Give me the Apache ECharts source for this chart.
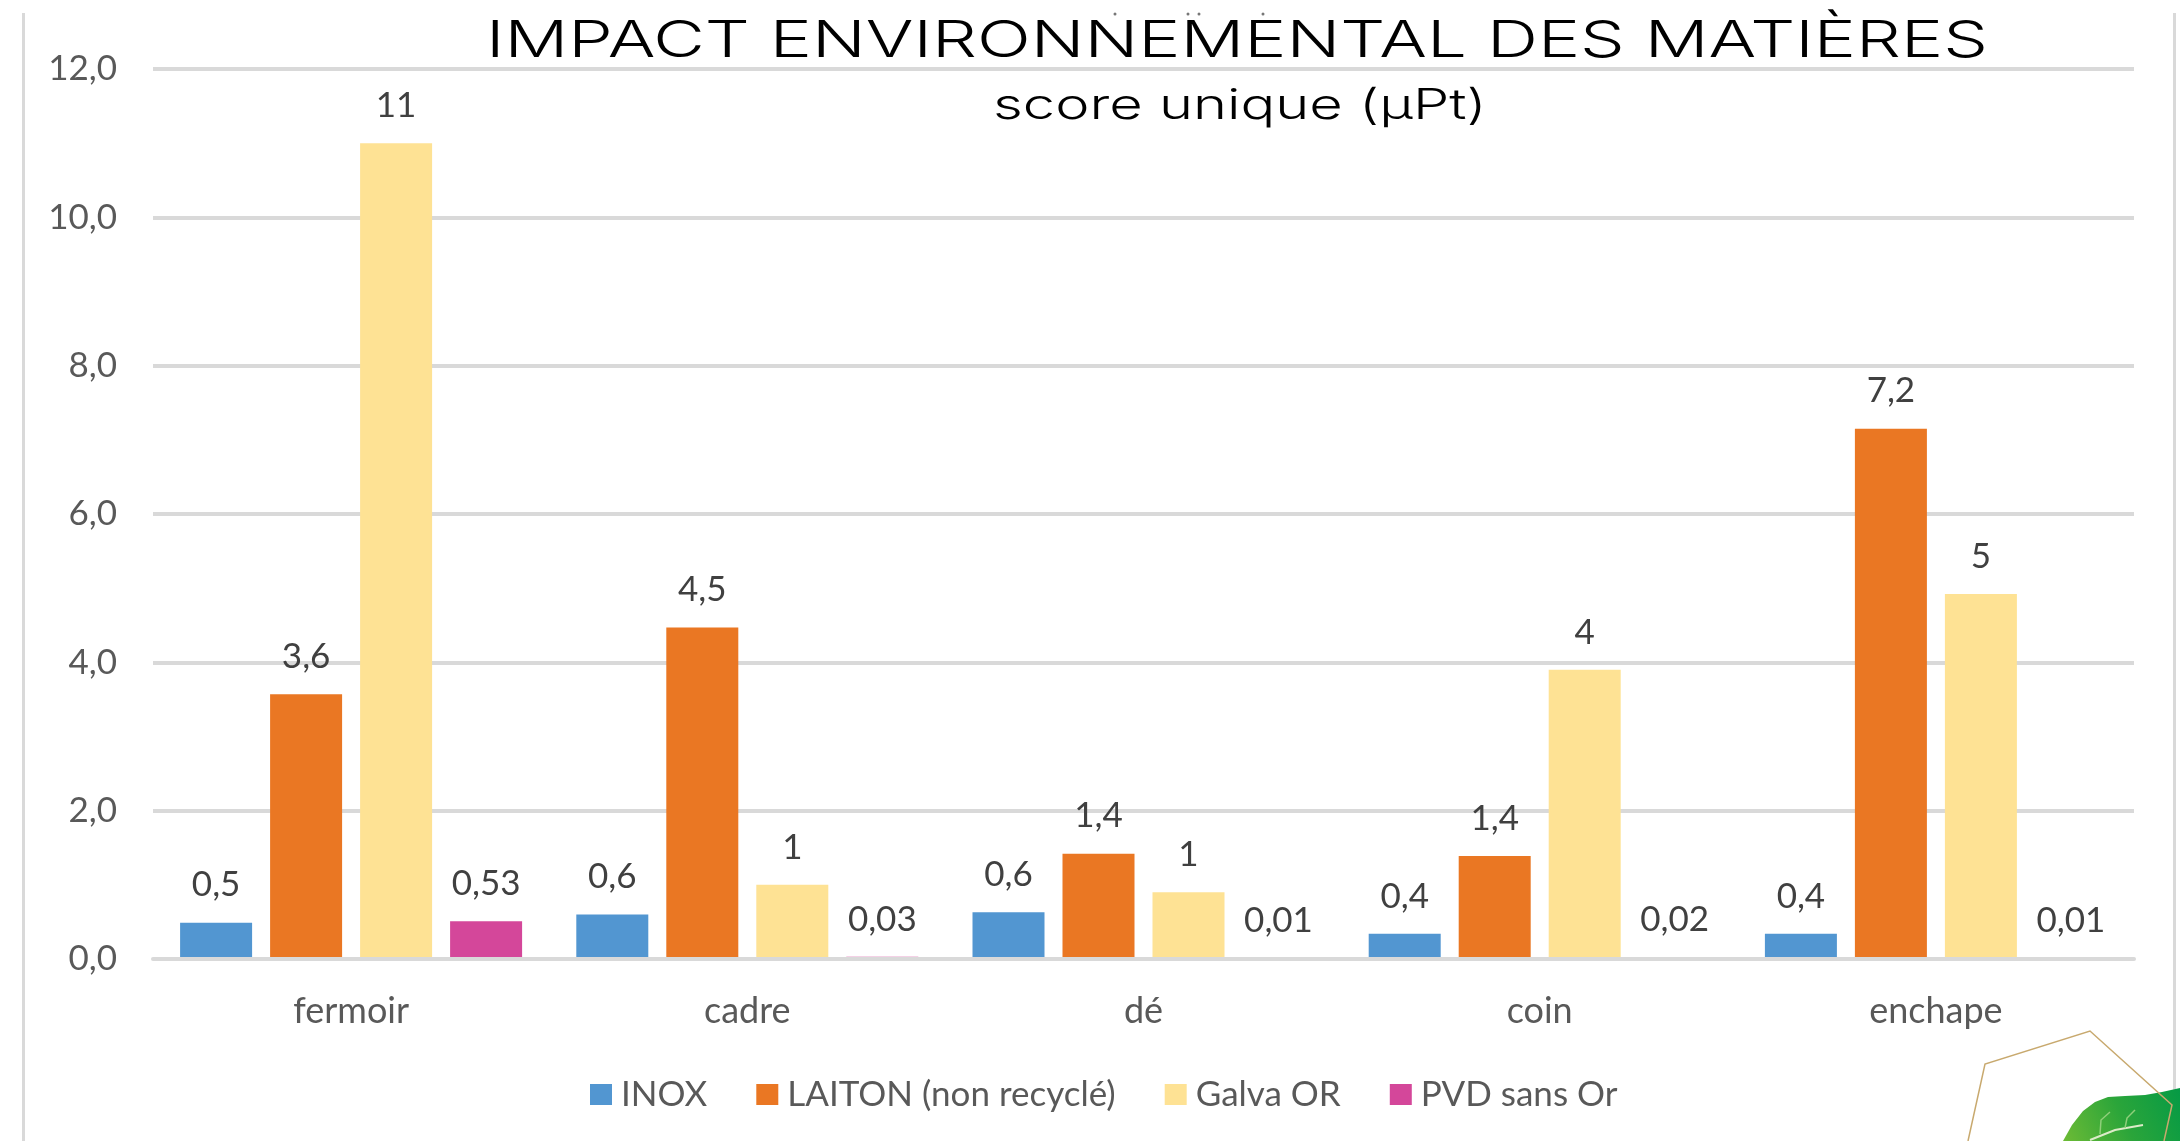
<!DOCTYPE html>
<html>
<head>
<meta charset="utf-8">
<title>Impact environnemental</title>
<script src="https://cdn.jsdelivr.net/npm/echarts@6/dist/echarts.min.js"></script>
<style>
html, body { margin: 0; padding: 0; background: #fff; }
#chart { width: 2180px; height: 1141px; }
</style>
</head>
<body>
<div id="chart"></div>
<script>
var categories = ['fermoir', 'cadre', 'dé', 'coin', 'enchape'];
var inox = [0.49, 0.6, 0.63, 0.34, 0.34];
var laiton = [3.57, 4.47, 1.42, 1.39, 7.15];
var galva = [11, 1, 0.9, 3.9, 4.92];
var pvd = [0.51, 0.03, 0.01, 0.02, 0.01];
// the printed labels are rounded and do not always follow the bar height
var inoxLabels = ['0,5', '0,6', '0,6', '0,4', '0,4'];
var laitonLabels = ['3,6', '4,5', '1,4', '1,4', '7,2'];
var galvaLabels = ['11', '1', '1', '4', '5'];
var pvdLabels = ['0,53', '0,03', '0,01', '0,02', '0,01'];

var font = 'Lato';

function barSeries(name, values, labels, color) {
    return {
        name: name,
        type: 'bar',
        barWidth: 72,
        barGap: '25%',
        itemStyle: { color: color },
        label: {
            show: true,
            position: 'top',
            distance: 20,
            fontFamily: font,
            fontSize: 35,
            color: '#404040',
            formatter: function (p) { return labels[p.dataIndex]; }
        },
        data: values
    };
}

var option = {
    animation: false,
    backgroundColor: '#fff',
    grid: { left: 153, right: 46, top: 69, bottom: 182 },
    legend: {
        left: 585,
        top: 1072,
        itemWidth: 22,
        itemHeight: 21,
        itemGap: 49,
        icon: 'rect',
        textStyle: { fontFamily: font, fontSize: 35, color: '#595959', padding: [0, 0, 0, 4] },
        data: ['INOX', 'LAITON (non recyclé)', 'Galva OR', 'PVD sans Or']
    },
    xAxis: {
        type: 'category',
        data: categories,
        z: 10,
        axisTick: { show: false },
        axisLine: { lineStyle: { color: '#d9d9d9', width: 4 } },
        axisLabel: { fontFamily: font, fontSize: 36, color: '#595959', margin: 34 }
    },
    yAxis: {
        type: 'value',
        min: 0,
        max: 12,
        interval: 2,
        axisLine: { show: false },
        axisTick: { show: false },
        splitLine: { lineStyle: { color: '#d9d9d9', width: 4 } },
        axisLabel: {
            fontFamily: font,
            fontSize: 35,
            color: '#595959',
            margin: 36,
            formatter: function (v) { return v.toFixed(1).replace('.', ','); }
        }
    },
    graphic: [
        { type: 'rect', shape: { x: 22, y: 13, width: 3, height: 1128 }, style: { fill: '#d9d9d9' } },
        { type: 'rect', shape: { x: 2173, y: 13, width: 3, height: 1128 }, style: { fill: '#d9d9d9' } },
        {
            type: 'text', x: 486, y: 17, scaleX: 1.417,
            style: { text: 'IMPACT ENVIRONNEMENTAL DES MATIÈRES', font: '300 50px Inter', fill: '#000' }
        },
        {
            type: 'text', x: 993, y: 85, scaleX: 1.376,
            style: { text: 'score unique (µPt)', font: '300 42px Inter', fill: '#000' }
        },
        // stray accent specks above the title
        { type: 'circle', shape: { cx: 1115, cy: 14, r: 1.5 }, style: { fill: '#777' } },
        { type: 'circle', shape: { cx: 1188, cy: 14, r: 1.5 }, style: { fill: '#777' } },
        { type: 'circle', shape: { cx: 1199, cy: 14, r: 1.5 }, style: { fill: '#777' } },
        { type: 'circle', shape: { cx: 1263, cy: 14, r: 1.5 }, style: { fill: '#777' } },
        // leaf in the bottom right corner
        {
            type: 'polygon',
            shape: {
                points: [[2063, 1141], [2072, 1125], [2083, 1111], [2095, 1102], [2108, 1097], [2125, 1096],
                    [2145, 1095], [2162, 1092], [2180, 1088], [2180, 1141]]
            },
            style: {
                fill: new echarts.graphic.LinearGradient(0, 1, 1, 0, [
                    { offset: 0, color: '#6dbb35' },
                    { offset: 0.5, color: '#2ba53a' },
                    { offset: 1, color: '#059a45' }
                ])
            }
        },
        {
            type: 'polyline',
            shape: { points: [[2090, 1140], [2115, 1130], [2143, 1125]] },
            style: { stroke: '#dcebc8', lineWidth: 2, fill: 'none' }
        },
        {
            type: 'polyline',
            shape: { points: [[2100, 1134], [2101, 1120], [2110, 1112]] },
            style: { stroke: '#8fcf7a', lineWidth: 1.5, fill: 'none' }
        },
        {
            type: 'polyline',
            shape: { points: [[2125, 1128], [2127, 1118], [2135, 1110]] },
            style: { stroke: '#8fcf7a', lineWidth: 1.5, fill: 'none' }
        },
        // gold hexagon outline
        {
            type: 'polyline',
            shape: { points: [[1968, 1141], [1985, 1064], [2090, 1031], [2172, 1105], [2164, 1141]] },
            style: { stroke: '#c8a96e', lineWidth: 1.5, fill: 'none' }
        }
    ],
    series: [
        barSeries('INOX', inox, inoxLabels, '#5296d1'),
        barSeries('LAITON (non recyclé)', laiton, laitonLabels, '#ea7723'),
        barSeries('Galva OR', galva, galvaLabels, '#fee294'),
        barSeries('PVD sans Or', pvd, pvdLabels, '#d4479a')
    ]
};

echarts.init(document.getElementById('chart')).setOption(option);
</script>
</body>
</html>
